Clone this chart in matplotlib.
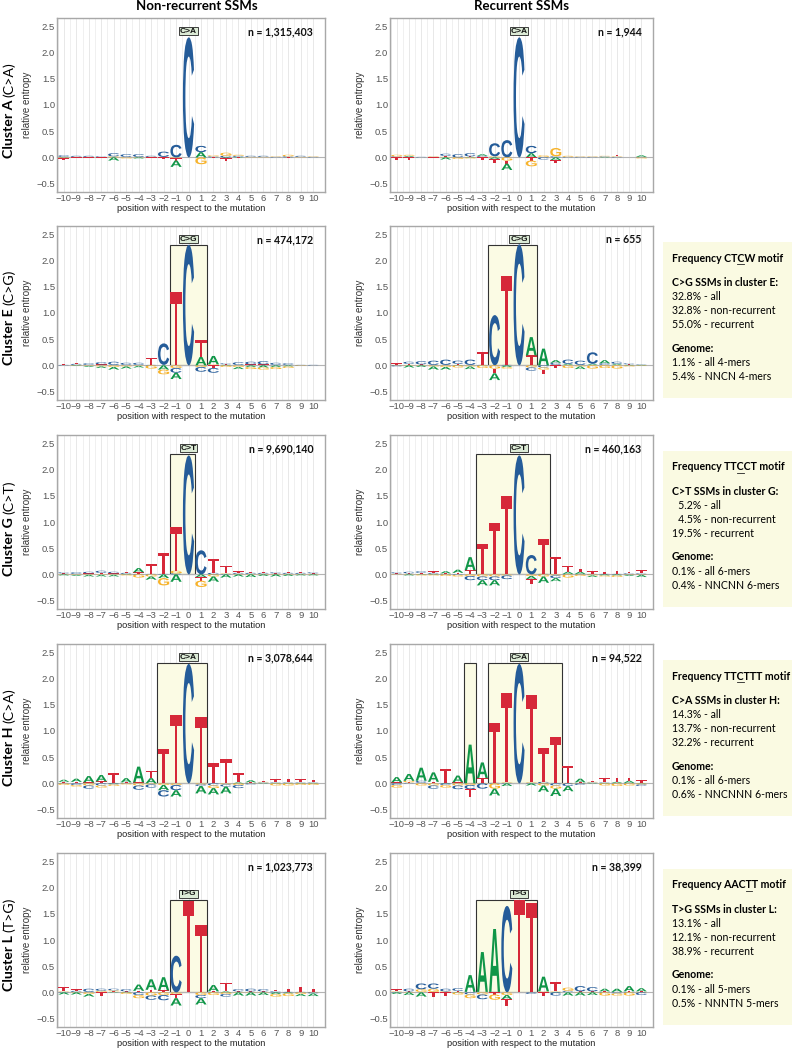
import matplotlib
matplotlib.use('Agg')
import matplotlib.pyplot as plt
from matplotlib.textpath import TextPath
from matplotlib.patches import PathPatch, Rectangle
from matplotlib.font_manager import FontProperties
from matplotlib.transforms import Affine2D
from matplotlib.lines import Line2D

positions = list(range(-10, 11))

# letter heights (relative entropy) per position -10..10, negative = below zero
a_nonrec = {
    'A': [0.01, 0, 0, 0, -0.06, 0, -0.02, 0, 0, -0.12, 0, 0.10, 0, -0.02, 0.01, 0, 0, 0, 0, 0, 0],
    'C': [0.03, 0.02, 0.02, 0.02, 0.06, 0.05, 0.05, 0.02, 0.10, 0.24, 2.29, 0.12, 0.02, 0.03, 0.02, 0.02, 0.02, 0.01, 0.02, 0.02, 0.01],
    'G': [-0.02, 0.01, 0.01, 0, 0.02, -0.02, 0.01, 0.01, 0.01, -0.02, 0, -0.13, 0.02, 0.06, 0.02, 0.01, 0.01, 0.01, 0.03, 0.01, 0.01],
    'T': [-0.02, -0.02, -0.02, -0.02, 0, 0.01, 0, -0.02, -0.03, -0.04, 0, 0, -0.01, -0.05, -0.01, 0, 0, 0, -0.01, 0, 0],
}
a_rec = {
    'A': [0, 0.02, 0, 0, -0.04, 0, 0.01, 0.03, -0.03, -0.12, 0, 0.08, 0, -0.05, 0, 0, 0, 0.01, 0, 0, 0.03],
    'C': [0.02, 0.01, 0.01, 0.01, 0.04, 0.06, 0.06, 0.02, 0.25, 0.33, 2.29, 0.14, -0.04, 0.02, 0.01, 0.01, 0.01, 0.01, 0.01, 0, 0.01],
    'G': [0.03, 0.02, 0, 0.01, 0.01, -0.03, -0.02, 0.01, 0.02, -0.06, 0, -0.11, 0.03, 0.16, 0.02, 0.01, 0.01, 0.01, 0.01, 0, -0.02],
    'T': [-0.05, -0.05, 0, -0.02, 0.02, 0, 0.01, -0.05, -0.08, -0.06, 0, -0.06, 0.01, -0.06, 0, 0, 0, 0, 0.02, 0, 0],
}
e_nonrec = {
    'A': [0, -0.01, -0.02, -0.03, -0.05, -0.04, -0.03, 0, -0.08, -0.12, 0, 0.16, 0.16, 0.01, -0.04, -0.03, -0.04, -0.03, -0.02, 0, 0],
    'C': [0.01, 0.02, 0.03, 0.04, 0.06, 0.04, 0.04, 0.01, 0.41, -0.09, 2.30, -0.09, -0.09, 0.02, 0.05, 0.05, 0.06, 0.04, 0.03, 0.01, 0.01],
    'G': [0, 0.01, -0.01, -0.02, -0.03, -0.02, -0.01, -0.06, -0.09, -0.05, 0, -0.03, 0.02, -0.03, -0.03, -0.04, -0.04, -0.04, -0.03, -0.01, 0],
    'T': [0.01, 0.02, 0.01, 0.02, 0.01, 0.01, 0.01, 0.13, 0.01, 1.40, 0, 0.32, -0.05, 0.01, 0.01, 0.02, 0.02, 0.01, 0.01, -0.01, 0],
}
e_rec = {
    'A': [0, -0.04, -0.03, -0.06, -0.05, 0.01, -0.05, 0, -0.13, -0.03, 0, 0.35, 0.32, 0.05, 0.02, -0.05, 0.02, 0.06, 0.02, 0.01, 0.01],
    'C': [-0.02, 0.04, 0.06, 0.08, 0.10, 0.06, 0.10, 0.01, 0.96, 0.01, 2.31, -0.06, -0.04, 0.04, 0.08, 0.08, 0.22, 0.03, 0.04, 0.02, 0.01],
    'G': [0.01, 0.01, 0.01, -0.02, -0.03, -0.04, -0.02, -0.05, -0.06, -0.03, 0, -0.04, -0.04, 0.01, -0.05, -0.02, -0.06, -0.05, -0.06, -0.02, -0.01],
    'T': [0.03, 0.02, 0.01, 0.01, 0.01, 0.02, 0.01, 0.25, -0.09, 1.69, 0, 0.19, -0.09, -0.05, 0.01, 0.01, 0.01, 0.01, 0.01, 0.01, 0],
}
g_nonrec = {
    'A': [-0.02, -0.02, -0.03, -0.03, -0.03, 0.01, 0.08, -0.06, -0.07, -0.14, 0, -0.05, -0.10, -0.06, -0.04, -0.05, -0.03, -0.04, -0.03, -0.02, -0.02],
    'C': [0.02, 0.03, 0.03, 0.04, 0.03, 0.02, 0.01, 0.01, 0.01, 0.02, 2.27, 0.46, 0.03, 0.01, 0.02, 0.02, 0.02, 0.02, 0.02, 0.02, 0.02],
    'G': [0.01, -0.01, -0.01, -0.01, -0.01, -0.02, -0.06, -0.04, -0.14, 0.05, 0, -0.12, -0.04, 0.01, 0.01, 0.01, 0.01, 0.01, 0.01, 0.01, 0.01],
    'T': [0.01, 0.01, 0.02, 0.03, 0.02, 0.02, 0.03, 0.18, 0.40, 0.84, 0, -0.07, 0.27, 0.15, 0.03, 0.02, 0.02, 0.01, 0.02, 0.02, 0.01],
}
g_rec = {
    'A': [0, -0.02, 0.01, 0.01, 0.04, 0.06, 0.25, -0.10, -0.10, 0, 0, -0.06, -0.12, -0.06, 0.04, 0.04, -0.03, -0.02, -0.02, -0.02, -0.04],
    'C': [0.02, 0.03, 0.03, 0.02, 0.01, -0.01, -0.08, -0.07, -0.07, -0.07, 2.27, 0.37, 0.01, -0.05, 0.01, 0.01, 0.01, 0.01, 0.01, 0.02, 0.02],
    'G': [0.01, 0.01, -0.02, -0.02, -0.03, -0.03, -0.03, -0.04, -0.04, -0.02, 0, -0.03, -0.04, -0.02, -0.06, -0.03, -0.02, -0.02, -0.03, -0.01, -0.01],
    'T': [0.01, 0.01, 0.02, 0.03, 0.01, 0.03, 0.08, 0.58, 0.99, 1.49, 0, -0.10, 0.66, 0.34, 0.11, 0.06, 0.05, 0.04, 0.06, 0.03, 0.06],
}
h_nonrec = {
    'A': [0.04, 0.06, 0.12, 0.12, 0.01, 0.08, 0.30, 0.10, -0.10, -0.12, 0, -0.14, -0.12, -0.13, 0.02, 0.04, 0.01, 0.01, 0.01, 0.01, 0.01],
    'C': [0.01, -0.03, -0.06, -0.04, -0.02, 0.01, -0.08, -0.06, -0.12, -0.10, 2.28, -0.03, -0.04, -0.04, -0.06, -0.02, 0.01, 0.01, 0.01, 0.01, 0.01],
    'G': [-0.03, -0.03, -0.04, -0.04, -0.03, -0.02, -0.04, -0.02, -0.03, -0.03, 0, -0.02, -0.05, -0.02, -0.03, 0.01, 0.01, -0.04, -0.04, -0.03, -0.03],
    'T': [0.02, 0.03, 0.02, 0.04, 0.18, 0.01, 0.02, 0.13, 0.66, 1.31, 0, 1.26, 0.38, 0.47, 0.17, 0.01, 0.02, 0.06, 0.07, 0.06, 0.05],
}
h_rec = {
    'A': [0.10, 0.13, 0.25, 0.18, 0.01, 0.13, 0.74, 0.30, -0.13, -0.05, 0, -0.04, -0.12, -0.14, -0.10, 0.07, 0.01, 0.01, 0.02, 0.04, 0.01],
    'C': [-0.03, 0.01, 0.04, -0.06, -0.03, -0.07, -0.08, -0.10, 0.01, 0.01, 2.28, 0.01, 0.03, -0.04, -0.05, -0.03, 0.01, 0.01, 0.01, 0.01, -0.03],
    'G': [-0.05, 0.03, -0.04, -0.04, -0.05, -0.04, -0.03, 0.01, -0.10, 0.01, 0, 0.01, -0.04, -0.06, 0.01, 0.01, 0.01, -0.04, -0.05, -0.04, -0.02],
    'T': [0.02, 0.01, 0.01, 0.03, 0.26, 0.02, -0.14, 0.09, 1.15, 1.70, 0, 1.67, 0.64, 0.88, 0.33, 0.01, 0.02, 0.08, 0.08, 0.06, 0.05],
}
l_nonrec = {
    'A': [-0.04, -0.04, -0.05, 0.01, 0.01, 0.01, 0.12, 0.20, 0.25, -0.14, 0, -0.12, 0.12, 0.02, -0.06, -0.06, -0.05, -0.03, -0.02, -0.04, -0.05],
    'C': [0.01, 0.02, 0.06, 0.04, 0.03, 0.04, -0.05, -0.08, -0.10, 0.70, 0, -0.06, 0.01, -0.05, 0.04, 0.05, 0.04, 0.02, 0.01, 0.01, -0.02],
    'G': [0.01, 0.01, -0.03, 0.02, 0.02, -0.03, -0.06, -0.06, -0.05, -0.03, 0, -0.05, -0.05, -0.03, 0.01, 0.01, 0.01, -0.05, -0.05, -0.03, 0.01],
    'T': [0.08, 0.03, 0.01, -0.06, 0.01, 0.01, 0.03, 0.05, 0.04, -0.08, 1.75, 1.28, 0.01, 0.16, 0.01, 0.01, 0.01, 0.03, 0.06, 0.10, 0.06],
}
l_rec = {
    'A': [-0.03, -0.05, -0.08, 0.01, 0.01, 0.01, 0.32, 0.76, 1.20, -0.08, 0, 0, 0.28, 0.01, -0.06, -0.06, -0.05, 0.05, 0.06, 0.10, 0.06],
    'C': [0.01, 0.05, 0.11, 0.10, 0.05, 0.05, -0.04, -0.09, 0.01, 1.65, 0, -0.03, 0.01, -0.06, 0.02, 0.10, 0.08, 0.01, -0.02, 0.01, -0.05],
    'G': [0.01, 0.01, 0.05, 0.06, 0.01, -0.04, -0.07, -0.04, -0.10, -0.05, 0, 0, 0.01, 0.01, 0.06, 0.01, 0.01, -0.06, -0.04, -0.06, 0.01],
    'T': [0.04, 0.01, 0.01, -0.08, -0.06, 0.02, 0.01, 0.01, -0.04, -0.12, 1.76, 1.70, -0.06, 0.17, 0.01, 0.01, 0.01, 0.01, 0.01, 0.01, 0.01],
}

clusters = ['A', 'E', 'G', 'H', 'L']
mutations = ['C>A', 'C>G', 'C>T', 'C>A', 'T>G']
logos_nonrec = [a_nonrec, e_nonrec, g_nonrec, h_nonrec, l_nonrec]
logos_rec = [a_rec, e_rec, g_rec, h_rec, l_rec]
n_nonrec = ['1,315,403', '474,172', '9,690,140', '3,078,644', '1,023,773']
n_rec = ['1,944', '655', '460,163', '94,522', '38,399']
hl_nonrec = [[], [(-1.5, 1.5)], [(-1.5, 0.5)], [(-2.5, 1.5)], [(-1.5, 1.5)]]
hl_rec = [[], [(-2.5, 1.5)], [(-3.5, 2.5)], [(-4.5, -3.5), (-2.5, 3.5)], [(-3.5, 1.5)]]
hl_top = [2.3, 2.3, 2.3, 2.3, 1.77]

motif_titles = [None, 'Frequency CTCW motif', 'Frequency TTCCT motif',
                'Frequency TTCTTT motif', 'Frequency AACTT motif']
motif_underline = [None, 12, 12, 12, 13]
ssm_lines = [
    None,
    ['C>G SSMs in cluster E:', '32.8% - all', '32.8% - non-recurrent', '55.0% - recurrent'],
    ['C>T SSMs in cluster G:', '\u20075.2% - all', '\u20074.5% - non-recurrent', '19.5% - recurrent'],
    ['C>A SSMs in cluster H:', '14.3% - all', '13.7% - non-recurrent', '32.2% - recurrent'],
    ['T>G SSMs in cluster L:', '13.1% - all', '12.1% - non-recurrent', '38.9% - recurrent'],
]
genome_lines = [
    None,
    ['1.1% - all 4-mers', '5.4% - NNCN 4-mers'],
    ['0.1% - all 6-mers', '0.4% - NNCNN 6-mers'],
    ['0.1% - all 6-mers', '0.6% - NNCNNN 6-mers'],
    ['0.1% - all 5-mers', '0.5% - NNNTN 5-mers'],
]

colors = {'A': '#109648', 'C': '#255C99', 'G': '#F7B32B', 'T': '#D62839'}
glyph_font = FontProperties(family='Liberation Sans', weight='bold')
glyphs = {ch: TextPath((0, 0), ch, size=1, prop=glyph_font) for ch in 'ACGT'}

W, H = 792, 1050
fig = plt.figure(figsize=(W / 100, H / 100), dpi=100)
cal = ['Lato', 'DejaVu Sans']
ticks_font = 'Liberation Sans'


def draw_letter(ax, ch, x, y0, h, width=0.9):
    tp = glyphs[ch]
    ext = tp.get_extents()
    tr = (Affine2D().translate(-ext.x0, -ext.y0)
          .scale(width / ext.width, h / ext.height)
          .translate(x - width / 2, y0))
    ax.add_patch(PathPatch(tr.transform_path(tp), fc=colors[ch], ec='none', lw=0, zorder=3))


def draw_logo(ax, logo):
    for i, p in enumerate(positions):
        vals = [(ch, logo[ch][i]) for ch in 'ACGT']
        pos = sorted([v for v in vals if v[1] > 0.004], key=lambda v: v[1])
        neg = sorted([v for v in vals if v[1] < -0.004], key=lambda v: -v[1])
        y = 0
        for ch, v in pos:
            draw_letter(ax, ch, p, y, v)
            y += v
        y = 0
        for ch, v in neg:
            y += v
            draw_letter(ax, ch, p, y, -v)


def fx(px):
    return px / W


def fy(py):
    return 1 - py / H


col_left = [57, 390]
col_width = [268, 263]
row_top = [18, 226, 435, 644, 853]
ax_h = 174

for r in range(5):
    for c in range(2):
        ax = fig.add_axes([fx(col_left[c]), fy(row_top[r] + ax_h), col_width[c] / W, ax_h / H])
        ax.set_xlim(-10.55, 10.95)
        ax.set_ylim(-0.66, 2.66)
        ax.set_xticks(positions)
        ax.set_xticks([p + 0.5 for p in positions[:-1]] + [-10.5], minor=True)
        ax.set_xticklabels([str(p).replace('-', '\u2212') for p in positions], fontfamily=ticks_font)
        yt = [-0.5, 0.0, 0.5, 1.0, 1.5, 2.0, 2.5]
        ax.set_yticks(yt)
        ax.set_yticklabels([('%.1f' % v).replace('-', '\u2212') for v in yt], fontfamily=ticks_font)
        ax.tick_params(which='both', length=0, labelsize=6.8, labelcolor='#555555', pad=1.5)
        ax.grid(which='major', axis='x', color='#e4e4e4', lw=0.6, zorder=0)
        ax.grid(which='minor', axis='x', color='#eeeeee', lw=0.6, zorder=0)
        ax.set_axisbelow(True)
        for s in ax.spines.values():
            s.set_color('#a8a8a8')
            s.set_linewidth(1.0)
        ax.axhline(0, color='#b4b4b4', lw=0.8, zorder=1.5)
        ax.set_ylabel('relative entropy', fontfamily=ticks_font, fontsize=7, color='#333333', labelpad=3)
        ax.set_xlabel('position with respect to the mutation', fontfamily=ticks_font,
                      fontsize=6.7, color='#222222', labelpad=1)

        hls = hl_nonrec[r] if c == 0 else hl_rec[r]
        for x0, x1 in hls:
            ax.add_patch(Rectangle((x0, 0), x1 - x0, hl_top[r], fc='#fbfbe4', ec='#333333',
                                   lw=0.8, zorder=1))
        draw_logo(ax, logos_nonrec[r] if c == 0 else logos_rec[r])
        ax.text(0, hl_top[r] + 0.11, mutations[r], ha='center', va='center', fontsize=6,
                fontfamily=ticks_font, fontweight='bold', color='#111111', zorder=5,
                bbox=dict(boxstyle='square,pad=0.1', fc='#dcebd6', ec='#222222', lw=0.6))
        ax.text(10, 2.4, 'n = ' + (n_nonrec[r] if c == 0 else n_rec[r]), ha='right', va='center',
                fontsize=7.6, fontfamily=cal, fontweight='bold', color='#111111', zorder=5)

    # row label
    yc = row_top[r] + ax_h / 2 - 5
    fig.text(fx(9), fy(yc), 'Cluster ' + clusters[r], rotation=90, rotation_mode='anchor',
             ha='right', va='center', fontsize=10.2, fontfamily=cal, fontweight='bold')
    fig.text(fx(9), fy(yc - 3), '(' + mutations[r] + ')', rotation=90, rotation_mode='anchor',
             ha='left', va='center', fontsize=10.2, fontfamily=cal)

fig.text(fx(197), fy(6), 'Non-recurrent SSMs', ha='center', va='center', fontsize=9.5,
         fontfamily=cal, fontweight='bold')
fig.text(fx(522), fy(6), 'Recurrent SSMs', ha='center', va='center', fontsize=9.5,
         fontfamily=cal, fontweight='bold')

# info boxes
renderer = fig.canvas.get_renderer()
for r in range(1, 5):
    top = row_top[r] + 16
    fig.add_artist(Rectangle((fx(663), fy(top + 156)), (W - 663) / W, 156 / H,
                             transform=fig.transFigure, fc='#fafae2', ec='none', zorder=0))
    tx = fx(672)
    title = motif_titles[r]
    fig.text(tx, fy(top + 16), title, ha='left', va='center', fontsize=7.6,
             fontfamily=cal, fontweight='bold')
    k = motif_underline[r]
    tmp1 = fig.text(tx, 0.5, title[:k], fontsize=7.6, fontfamily=cal, fontweight='bold')
    tmp2 = fig.text(tx, 0.5, title[:k + 1], fontsize=7.6, fontfamily=cal, fontweight='bold')
    e1 = tmp1.get_window_extent(renderer)
    e2 = tmp2.get_window_extent(renderer)
    tmp1.remove()
    tmp2.remove()
    uy = fy(top + 22)
    fig.add_artist(Line2D([e1.x1 / W, e2.x1 / W], [uy, uy], color='#222222', lw=0.6,
                          transform=fig.transFigure))
    lines = ssm_lines[r]
    fig.text(tx, fy(top + 40.5), lines[0], ha='left', va='center', fontsize=7.6,
             fontfamily=cal, fontweight='bold')
    for j, s in enumerate(lines[1:]):
        fig.text(tx, fy(top + 54.5 + 14 * j), s, ha='left', va='center', fontsize=7.6,
                 fontfamily=cal)
    fig.text(tx, fy(top + 106), 'Genome:', ha='left', va='center', fontsize=7.6,
             fontfamily=cal, fontweight='bold')
    for j, s in enumerate(genome_lines[r]):
        fig.text(tx, fy(top + 120.5 + 14 * j), s, ha='left', va='center', fontsize=7.6,
                 fontfamily=cal)

fig.savefig('out.png', dpi=100)
